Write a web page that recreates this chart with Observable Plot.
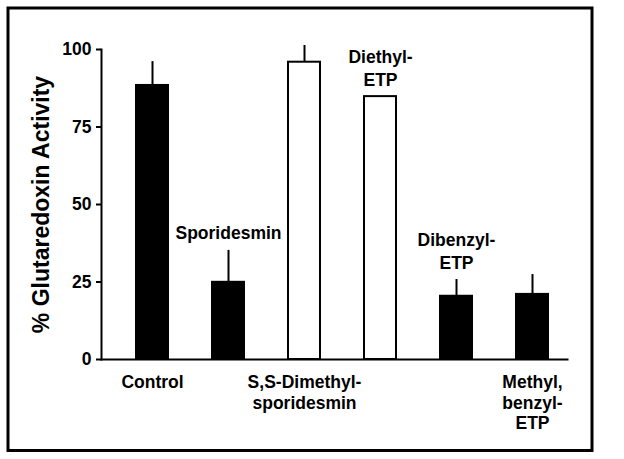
<!DOCTYPE html>
<html>
<head>
<meta charset="utf-8">
<script src="https://cdn.jsdelivr.net/npm/d3@7"></script>
<script src="https://cdn.jsdelivr.net/npm/@observablehq/plot@0.6"></script>
<style>
  html, body { margin: 0; padding: 0; background: #fff; }
  #chart svg { display: block; }
</style>
</head>
<body>
<div id="chart"></div>
<script>
const categories = ["Control", "Sporidesmin", "S,S-Dimethylsporidesmin", "Diethyl-ETP", "Dibenzyl-ETP", "Methyl,benzyl-ETP"];
const activity = [88.4, 24.9, 95.9, 84.8, 20.4, 21.0];
const errorUpper = [96.1, 35.2, 101.3, null, 25.8, 27.4];
const barKind = ["filled", "filled", "open", "open", "filled", "filled"];
const labelText = ["Control", "Sporidesmin", "S,S-Dimethyl-\nsporidesmin", "Diethyl-\nETP", "Dibenzyl-\nETP", "Methyl,\nbenzyl-\nETP"];
const labelSide = ["below", "above", "below", "above", "above", "below"];
const yTicks = [0, 25, 50, 75, 100];
const yTitle = "% Glutaredoxin Activity";

const data = categories.map((c, i) => ({
  name: c,
  value: activity[i],
  err: errorUpper[i],
  kind: barKind[i],
  label: labelText[i],
  side: labelSide[i],
  top: errorUpper[i] ?? activity[i]
}));

const W = 624, H = 459;
const mL = 101, mR = 57, mT = 49, mB = 100;

const chart = Plot.plot({
  width: W,
  height: H,
  marginLeft: mL,
  marginRight: mR,
  marginTop: mT,
  marginBottom: mB,
  style: {fontFamily: "'Liberation Sans', Arial, sans-serif", fontWeight: "bold", color: "black", background: "white"},
  x: {domain: categories, axis: null, paddingInner: 0.582, paddingOuter: 0.333, align: 0.642},
  y: {domain: [0, 100], axis: null},
  color: {domain: ["filled", "open"], range: ["black", "white"]},
  marks: [
    Plot.frame({stroke: "black", strokeWidth: 3, insetLeft: 7.5 - mL, insetRight: (W - mR) - 591.5, insetTop: 7.5 - mT, insetBottom: (H - mB) - 450}),
    Plot.axisY({ticks: yTicks, tickSize: 5, tickPadding: 5, fontSize: 17.5, fontWeight: "bold", strokeWidth: 2, label: null}),
    Plot.text([yTitle], {frameAnchor: "left", rotate: -90, dx: -60, fontSize: 23, fontWeight: "bold", letterSpacing: 1, textAnchor: "middle", lineAnchor: "middle"}),
    Plot.barY(data, {x: "name", y: "value", fill: "kind", stroke: "black", strokeWidth: 2}),
    Plot.ruleX(data.filter(d => d.err != null), {x: "name", y1: "value", y2: "err", stroke: "black", strokeWidth: 2}),
    Plot.frame({anchor: "left", stroke: "black", strokeWidth: 2}),
    Plot.frame({anchor: "bottom", stroke: "black", strokeWidth: 2}),
    Plot.text(data.filter(d => d.side === "above"), {x: "name", y: "top", text: "label", lineAnchor: "bottom", dy: -11, fontSize: 17.5, fontWeight: "bold", lineHeight: 1.27}),
    Plot.text(data.filter(d => d.side === "below"), {x: "name", y: () => 0, text: "label", lineAnchor: "top", dy: 14, fontSize: 17.5, fontWeight: "bold", lineHeight: 1.18})
  ]
});
document.getElementById("chart").appendChild(chart);
</script>
</body>
</html>
